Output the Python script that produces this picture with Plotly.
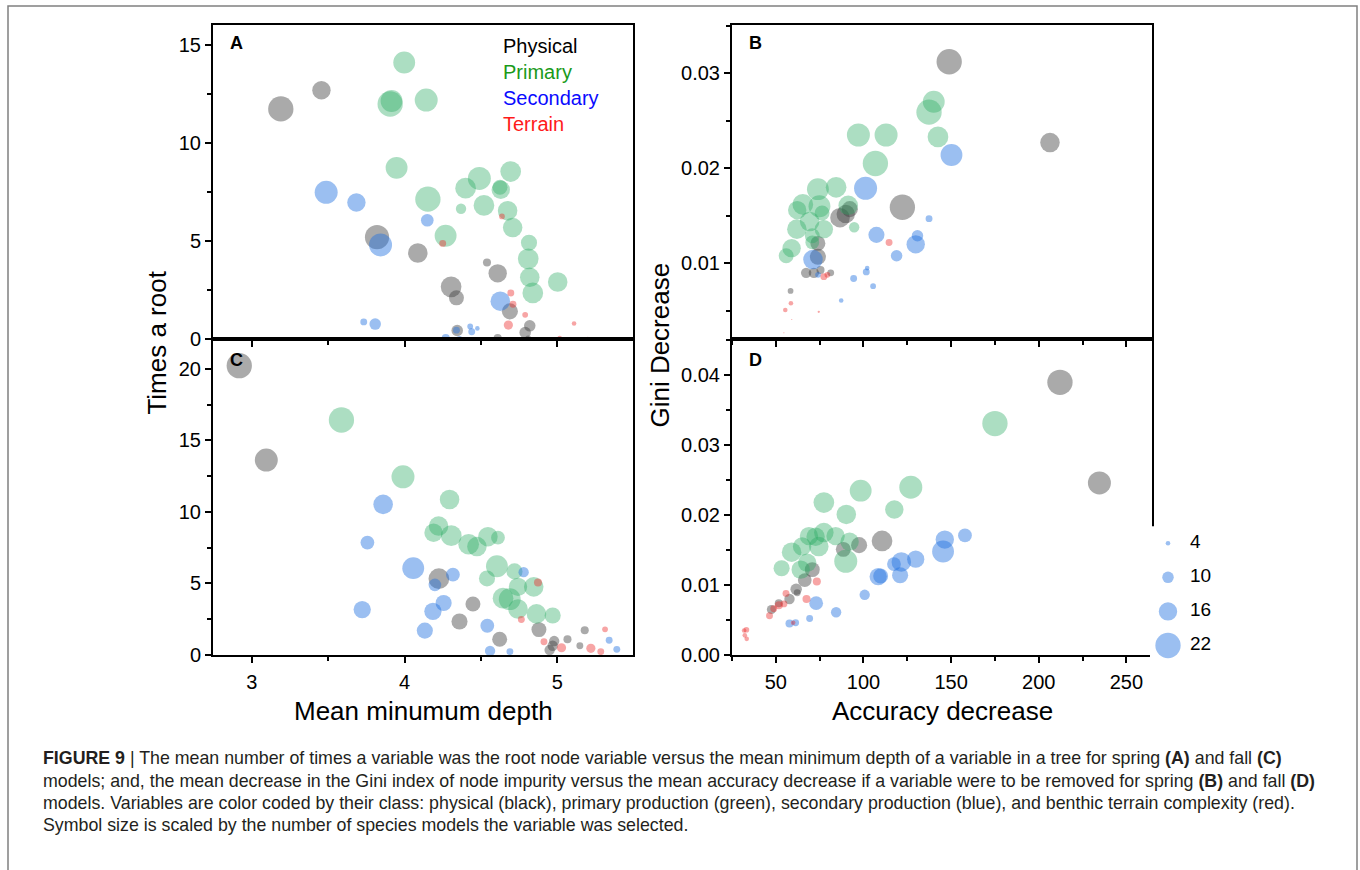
import plotly.graph_objects as go

# ---------------- data ----------------
# Panel A (spring): mean minimum depth vs times a root
A_phys_x = [3.19, 3.456, 3.82, 4.087, 4.54, 4.61, 4.305, 4.34, 4.69, 4.82, 4.79, 4.345, 4.61, 4.81]
A_phys_y = [11.75, 12.7, 5.2, 4.39, 3.9, 3.35, 2.66, 2.1, 1.41, 0.67, 0.33, 0.43, 0.05, 0.03]
A_phys_n = [22, 16, 21, 17, 7, 16, 18, 13, 14, 10, 10, 10, 7, 5]

A_prim_x = [3.998, 3.906, 3.915, 4.142, 3.948, 4.153, 4.269, 4.37, 4.40, 4.49, 4.52, 4.63, 4.625, 4.695, 4.675, 4.708, 4.815, 4.81, 4.82, 4.84, 5.003]
A_prim_y = [14.12, 12.0, 12.15, 12.2, 8.74, 7.14, 5.27, 6.65, 7.7, 8.2, 6.82, 7.62, 7.75, 8.55, 6.55, 5.69, 4.91, 4.09, 3.15, 2.35, 2.91]
A_prim_n = [19, 22, 19, 20, 19, 22, 19, 9, 18, 20, 18, 16, 13, 18, 17, 17, 14, 18, 17, 18, 17]

A_sec_x = [3.487, 3.685, 4.149, 3.843, 4.627, 3.733, 3.808, 4.27, 4.34, 4.43, 4.44, 4.477, 4.36]
A_sec_y = [7.49, 6.97, 6.06, 4.8, 1.93, 0.87, 0.76, 0.05, 0.45, 0.64, 0.37, 0.54, 0.0]
A_sec_n = [20, 16, 11, 20, 17, 6, 10, 7, 6, 5, 6, 4, 5]

A_ter_x = [4.25, 4.638, 4.696, 4.71, 4.79, 4.68, 5.11, 5.016, 5.2, 5.28, 5.35]
A_ter_y = [4.88, 6.26, 2.35, 1.77, 1.23, 0.71, 0.79, 0.05, 0.02, 0.02, 0.02]
A_ter_n = [6, 5, 6, 6, 5, 8, 4, 4, 3, 2, 2]

# Panel B (spring): accuracy decrease vs Gini decrease
B_phys_x = [148.9, 206.4, 122.2, 86.6, 89.9, 92.2, 74.0, 74.0, 67.3, 71.7, 75.5, 81.3, 58.4]
B_phys_y = [0.0312, 0.0227, 0.0159, 0.0148, 0.0152, 0.0157, 0.0121, 0.0107, 0.0090, 0.0090, 0.0093, 0.0090, 0.0071]
B_phys_n = [22, 17, 22, 17, 16, 14, 13, 14, 9, 9, 7, 6, 5]

B_prim_x = [140.1, 137.4, 142.5, 97.1, 112.9, 106.8, 84.4, 74.0, 65.4, 62.2, 74.9, 76.4, 69.3, 62.0, 77.4, 70.8, 70.8, 59.0, 55.9, 91.3, 94.7]
B_prim_y = [0.0270, 0.0259, 0.0233, 0.0235, 0.0235, 0.0205, 0.0180, 0.0178, 0.0162, 0.0156, 0.0160, 0.0153, 0.0144, 0.0136, 0.0136, 0.0129, 0.0122, 0.0116, 0.0108, 0.0161, 0.0138]
B_prim_n = [19, 22, 18, 20, 20, 22, 18, 19, 18, 16, 19, 13, 17, 17, 16, 13, 12, 16, 13, 17, 9]

B_sec_x = [150.2, 101.2, 107.4, 118.9, 129.8, 130.8, 137.4, 71.2, 94.4, 101.6, 102.1, 105.5, 87.3, 74.1]
B_sec_y = [0.0214, 0.0179, 0.0130, 0.0108, 0.0120, 0.0129, 0.0147, 0.0104, 0.0084, 0.0091, 0.0095, 0.0076, 0.0061, 0.0088]
B_sec_n = [19, 20, 14, 10, 16, 10, 6, 17, 6, 6, 4, 5, 4, 5]

B_ter_x = [114.6, 77.4, 79.4, 58.6, 55.4, 74.5, 59.1, 54.6, 34.0]
B_ter_y = [0.0122, 0.0086, 0.0088, 0.0058, 0.0051, 0.0049, 0.0041, 0.0027, 0.0022]
B_ter_n = [6, 6, 5, 4, 4, 2, 1, 1, 1]

# Panel C (fall): mean minimum depth vs times a root
C_phys_x = [2.918, 3.095, 4.225, 4.448, 4.36, 4.623, 4.88, 4.98, 4.97, 4.95, 5.067, 5.148, 5.18]
C_phys_y = [20.23, 13.63, 5.33, 3.56, 2.34, 1.1, 1.77, 0.97, 0.64, 0.34, 1.1, 0.64, 1.72]
C_phys_n = [22, 20, 18, 13, 14, 13, 13, 9, 9, 9, 7, 6, 7]

C_prim_x = [3.587, 3.99, 4.295, 4.223, 4.19, 4.306, 4.42, 4.474, 4.546, 4.612, 4.605, 4.54, 4.72, 4.846, 4.743, 4.645, 4.689, 4.743, 4.864, 4.97]
C_prim_y = [16.43, 12.46, 10.87, 9.01, 8.55, 8.34, 7.74, 7.58, 8.27, 8.2, 6.2, 5.35, 5.84, 4.76, 4.76, 3.97, 3.9, 3.21, 2.87, 2.76]
C_prim_n = [22, 20, 17, 17, 16, 18, 18, 17, 17, 12, 19, 14, 14, 17, 16, 18, 19, 17, 17, 14]

C_sec_x = [3.86, 3.757, 4.057, 4.317, 4.199, 3.723, 4.256, 4.186, 4.133, 4.542, 4.78, 4.56, 4.69, 5.34, 5.39]
C_sec_y = [10.53, 7.86, 6.07, 5.61, 4.9, 3.17, 3.63, 3.05, 1.7, 2.04, 5.79, 0.28, 0.23, 1.03, 0.39]
C_sec_n = [17, 12, 19, 12, 11, 15, 14, 15, 14, 12, 9, 9, 6, 6, 6]

C_ter_x = [4.874, 4.765, 4.913, 5.028, 5.22, 5.285, 5.313]
C_ter_y = [5.06, 2.48, 0.92, 0.5, 0.46, 0.23, 1.79]
C_ter_n = [7, 6, 6, 8, 8, 6, 5]

# Panel D (fall): accuracy decrease vs Gini decrease
D_phys_x = [212.1, 234.6, 110.6, 97.5, 88.5, 70.8, 66.5, 61.6, 62.2, 57.8, 51.7, 47.5]
D_phys_y = [0.0390, 0.0246, 0.0163, 0.0157, 0.0151, 0.0122, 0.0107, 0.0094, 0.0089, 0.0080, 0.0074, 0.0065]
D_phys_n = [22, 20, 18, 14, 13, 13, 12, 10, 6, 9, 7, 8]

D_prim_x = [175.0, 127.0, 98.4, 77.4, 90.2, 117.6, 89.9, 53.3, 59.0, 65.0, 68.9, 74.5, 72.7, 77.4, 84.1, 92.1, 67.9, 64.2]
D_prim_y = [0.0331, 0.0240, 0.0235, 0.0218, 0.0201, 0.0208, 0.0134, 0.0124, 0.0147, 0.0155, 0.0170, 0.0155, 0.0169, 0.0175, 0.0170, 0.0162, 0.0132, 0.0122]
D_prim_n = [22, 20, 19, 18, 17, 16, 20, 14, 17, 16, 16, 17, 16, 17, 16, 16, 16, 16]

D_sec_x = [157.9, 146.4, 145.4, 129.8, 121.6, 117.4, 120.9, 108.4, 109.8, 100.7, 73.0, 84.4, 69.3, 57.8, 61.3]
D_sec_y = [0.0171, 0.0165, 0.0148, 0.0137, 0.0133, 0.0130, 0.0114, 0.0112, 0.0113, 0.0086, 0.0074, 0.0061, 0.0052, 0.0045, 0.0046]
D_sec_n = [12, 16, 19, 15, 17, 12, 14, 15, 13, 9, 12, 9, 6, 7, 6]

D_ter_x = [73.4, 67.5, 55.8, 51.7, 48.8, 46.4, 54.6, 59.9, 33.2, 31.9, 32.3, 33.4]
D_ter_y = [0.0105, 0.0080, 0.0088, 0.0071, 0.0066, 0.0056, 0.0073, 0.0046, 0.0036, 0.0035, 0.0028, 0.0023]
D_ter_n = [7, 7, 6, 7, 6, 6, 6, 4, 5, 4, 4, 4]

class_names = ["Physical", "Primary", "Secondary", "Terrain"]
size_legend = [4, 10, 16, 22]

# ---------------- style ----------------
W, H = 1360, 870
FONT = "Liberation Sans, Arial, sans-serif"
marker_cols = {
    "Physical": "rgba(60,60,60,0.62)",
    "Primary": "rgba(40,170,95,0.55)",
    "Secondary": "rgba(35,115,225,0.65)",
    "Terrain": "rgba(235,40,40,0.6)",
}
text_cols = {
    "Physical": "#000000",
    "Primary": "#1a9a1a",
    "Secondary": "#0a0aff",
    "Terrain": "#ff1a1a",
}
SIZEREF = 1 / 1.15


def px_x(p):
    return p / W


def px_y(p):
    return 1 - p / H


panels = {
    "A": ("x", "y", [(A_phys_x, A_phys_y, A_phys_n), (A_prim_x, A_prim_y, A_prim_n),
                     (A_sec_x, A_sec_y, A_sec_n), (A_ter_x, A_ter_y, A_ter_n)]),
    "B": ("x2", "y2", [(B_phys_x, B_phys_y, B_phys_n), (B_prim_x, B_prim_y, B_prim_n),
                       (B_sec_x, B_sec_y, B_sec_n), (B_ter_x, B_ter_y, B_ter_n)]),
    "C": ("x3", "y3", [(C_phys_x, C_phys_y, C_phys_n), (C_prim_x, C_prim_y, C_prim_n),
                       (C_sec_x, C_sec_y, C_sec_n), (C_ter_x, C_ter_y, C_ter_n)]),
    "D": ("x4", "y4", [(D_phys_x, D_phys_y, D_phys_n), (D_prim_x, D_prim_y, D_prim_n),
                       (D_sec_x, D_sec_y, D_sec_n), (D_ter_x, D_ter_y, D_ter_n)]),
}

fig = go.Figure()
for key, (xa, ya, groups) in panels.items():
    for cname, (gx, gy, gn) in zip(class_names, groups):
        fig.add_trace(go.Scatter(
            x=gx, y=gy, mode="markers", xaxis=xa, yaxis=ya,
            marker=dict(size=gn, sizemode="diameter", sizeref=SIZEREF,
                        color=marker_cols[cname], line=dict(width=0)),
            showlegend=False, hoverinfo="skip", name=cname))

# size legend (separate small axes)
fig.add_trace(go.Scatter(
    x=[0.225] * len(size_legend), y=[str(s) for s in size_legend], mode="markers",
    xaxis="x5", yaxis="y5",
    marker=dict(size=size_legend, sizemode="diameter", sizeref=SIZEREF,
                color=marker_cols["Secondary"], line=dict(width=0)),
    showlegend=False, hoverinfo="skip"))
fig.add_trace(go.Scatter(
    x=[0.5] * len(size_legend), y=[str(s) for s in size_legend], mode="text",
    text=[str(s) for s in size_legend], textposition="middle right",
    textfont=dict(size=19, color="#000", family=FONT),
    xaxis="x5", yaxis="y5", showlegend=False, hoverinfo="skip", cliponaxis=False))

xdomL = [px_x(213), px_x(633)]
xdomR = [px_x(732), px_x(1152)]
ydomT = [px_y(343.3), px_y(25)]
ydomB = [px_y(663.3), px_y(343.3)]

base = dict(showline=True, linecolor="black", linewidth=2, mirror=True,
            ticks="outside", ticklen=6, tickwidth=1.5, tickcolor="black",
            showgrid=False, zeroline=False,
            tickfont=dict(size=20, color="black", family=FONT))


def ax(**kw):
    d = dict(base)
    d.update(kw)
    return d


fig.update_layout(
    width=W, height=H, margin=dict(l=0, r=0, t=0, b=0),
    paper_bgcolor="white", plot_bgcolor="white",
    font=dict(family=FONT, color="black"),
    xaxis=ax(domain=xdomL, anchor="y", range=[2.746, 5.496], dtick=1, tick0=0,
             showticklabels=False, minor=dict(ticks="outside", ticklen=4, dtick=0.5, tickcolor="black")),
    yaxis=ax(domain=ydomT, anchor="x", range=[0, 16.05], dtick=5, tick0=0,
             minor=dict(ticks="outside", ticklen=4, dtick=2.5, tickcolor="black")),
    xaxis2=ax(domain=xdomR, anchor="y2", range=[25, 264.6], dtick=50, tick0=0,
              showticklabels=False, minor=dict(ticks="outside", ticklen=4, dtick=25, tickcolor="black")),
    yaxis2=ax(domain=ydomT, anchor="x2", range=[0.00205, 0.0351], dtick=0.01, tick0=0,
              tickformat=".2f", minor=dict(ticks="outside", ticklen=4, dtick=0.005, tickcolor="black")),
    xaxis3=ax(domain=xdomL, anchor="y3", range=[2.746, 5.496], dtick=1, tick0=0, ticklabelstandoff=2,
              minor=dict(ticks="outside", ticklen=4, dtick=0.5, tickcolor="black")),
    yaxis3=ax(domain=ydomB, anchor="x3", range=[0, 22.1], dtick=5, tick0=0,
              minor=dict(ticks="outside", ticklen=4, dtick=2.5, tickcolor="black")),
    xaxis4=ax(domain=xdomR, anchor="y4", range=[25, 264.6], dtick=50, tick0=0, ticklabelstandoff=2,
              minor=dict(ticks="outside", ticklen=4, dtick=25, tickcolor="black")),
    yaxis4=ax(domain=ydomB, anchor="x4", range=[0, 0.0452], dtick=0.01, tick0=0,
              tickformat=".2f", minor=dict(ticks="outside", ticklen=4, dtick=0.005, tickcolor="black")),
    xaxis5=dict(domain=[px_x(1150), px_x(1230)], anchor="y5", range=[0, 1], visible=False),
    yaxis5=dict(domain=[px_y(671), px_y(533)], anchor="x5", type="category",
                categoryorder="array", categoryarray=[str(s) for s in size_legend[::-1]],
                range=[-0.5, 3.5], visible=False),
)

ann = []
# panel letters
for letter, (lx, ly) in {"A": (228, 44), "B": (747, 44), "C": (228, 365), "D": (747, 365)}.items():
    ann.append(dict(text=f"<b>{letter}</b>", x=px_x(lx), y=px_y(ly), xref="paper", yref="paper",
                    xanchor="left", yanchor="middle", showarrow=False,
                    font=dict(size=18, color="black", family=FONT)))
# class legend
for cname, ly in zip(class_names, [47, 73, 99, 126]):
    ann.append(dict(text=cname, x=px_x(501), y=px_y(ly), xref="paper", yref="paper",
                    xanchor="left", yanchor="middle", showarrow=False,
                    font=dict(size=20, color=text_cols[cname], family=FONT)))
# axis titles
ann.append(dict(text="Times a root", x=px_x(157), y=px_y(347), xref="paper", yref="paper",
                textangle=-90, showarrow=False, xanchor="center", yanchor="middle",
                font=dict(size=26, color="black", family=FONT)))
ann.append(dict(text="Gini Decrease", x=px_x(660), y=px_y(350), xref="paper", yref="paper",
                textangle=-90, showarrow=False, xanchor="center", yanchor="middle",
                font=dict(size=26, color="black", family=FONT)))
ann.append(dict(text="Mean minumum depth", x=px_x(423), y=px_y(720), xref="paper", yref="paper",
                showarrow=False, xanchor="center", yanchor="middle",
                font=dict(size=26, color="black", family=FONT)))
ann.append(dict(text="Accuracy decrease", x=px_x(942), y=px_y(720), xref="paper", yref="paper",
                showarrow=False, xanchor="center", yanchor="middle",
                font=dict(size=26, color="black", family=FONT)))

caption_lines = [
    "<b>FIGURE 9</b> | The mean number of times a variable was the root node variable versus the mean minimum depth of a variable in a tree for spring <b>(A)</b> and fall <b>(C)</b>",
    "models; and, the mean decrease in the Gini index of node impurity versus the mean accuracy decrease if a variable were to be removed for spring <b>(B)</b> and fall <b>(D)</b>",
    "models. Variables are color coded by their class: physical (black), primary production (green), secondary production (blue), and benthic terrain complexity (red).",
    "Symbol size is scaled by the number of species models the variable was selected.",
]
for line, ly in zip(caption_lines, [768, 791, 813, 836]):
    ann.append(dict(text=line, x=px_x(41), y=px_y(ly), xref="paper", yref="paper",
                    xanchor="left", yanchor="middle", showarrow=False,
                    font=dict(size=17.8, color="#231f20", family=FONT)))

fig.update_layout(annotations=ann)

fig.add_shape(type="rect", xref="paper", yref="paper",
              x0=px_x(8), x1=px_x(1357), y0=-0.02, y1=px_y(6),
              line=dict(color="#808080", width=1.5), fillcolor="rgba(0,0,0,0)", layer="below")

fig.write_html("out.html")
